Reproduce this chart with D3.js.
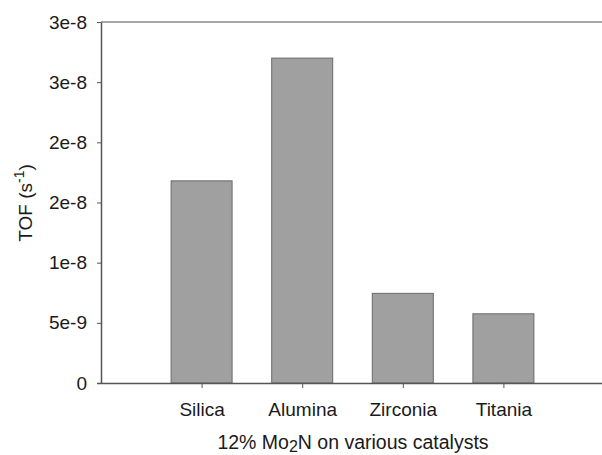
<!DOCTYPE html>
<html>
<head>
<meta charset="utf-8">
<script src="https://cdn.jsdelivr.net/npm/d3@7"></script>
<style>
  html, body { margin: 0; padding: 0; background: #fff; }
  svg { display: block; }
  text { font-family: "Liberation Sans", Arial, sans-serif; fill: #1a1a1a; }
</style>
</head>
<body>
<svg id="chart" width="602" height="455"></svg>
<script>
// TOF per support
const categories = ["Silica", "Alumina", "Zirconia", "Titania"];
const tofValues = [1.68e-8, 2.70e-8, 7.45e-9, 5.75e-9];
const yTickValues = [0, 5e-9, 1e-8, 1.5e-8, 2e-8, 2.5e-8, 3e-8];
const yTickLabels = ["0", "5e-9", "1e-8", "2e-8", "2e-8", "3e-8", "3e-8"];

const svg = d3.select("#chart");
const plotLeft = 101, plotRight = 602, plotTop = 22, plotBottom = 383;
const fontSize = "19px";

// categories sit at positions 1..4 on a 0..5 axis
const x = d3.scaleLinear().domain([0, 5]).range([plotLeft, plotLeft + 5 * 100.6]);
const y = d3.scaleLinear().domain([0, 3e-8]).range([plotBottom, plotTop]);
const barWidth = 61;

// top frame line
svg.append("line")
  .attr("x1", plotLeft).attr("x2", plotRight)
  .attr("y1", plotTop).attr("y2", plotTop)
  .attr("stroke", "#8a8a8a").attr("stroke-width", 1.5);

// bars
svg.append("g").selectAll("rect")
  .data(categories.map((c, i) => ({ c, v: tofValues[i], i })))
  .join("rect")
  .attr("x", d => x(d.i + 1) - barWidth / 2)
  .attr("width", barWidth)
  .attr("y", d => y(d.v))
  .attr("height", d => y(0) - y(d.v))
  .attr("fill", "#a0a0a0")
  .attr("stroke", "#6a6a6a")
  .attr("stroke-width", 1);

// y axis
const yAxis = d3.axisLeft(y)
  .tickValues(yTickValues)
  .tickFormat((d, i) => yTickLabels[i])
  .tickSize(4)
  .tickPadding(10)
  .tickSizeOuter(0);
const gy = svg.append("g").attr("transform", `translate(${plotLeft},0)`).call(yAxis);
gy.select(".domain").attr("stroke", "#555").attr("stroke-width", 1.5);
gy.selectAll(".tick line").attr("stroke", "#555");
gy.selectAll(".tick text").style("font-size", fontSize).attr("fill", "#1a1a1a");

// x axis
const xAxis = d3.axisBottom(x)
  .tickValues([1, 2, 3, 4])
  .tickFormat((d) => categories[d - 1])
  .tickSize(5)
  .tickPadding(15)
  .tickSizeOuter(0);
const gx = svg.append("g").attr("transform", `translate(0,${plotBottom})`).call(xAxis);
gx.select(".domain").attr("d", `M${plotLeft - 4},0.5H${plotRight}`)
  .attr("stroke", "#555").attr("stroke-width", 1.5);
gx.selectAll(".tick line").attr("stroke", "#555");
gx.selectAll(".tick text").style("font-size", fontSize).attr("fill", "#1a1a1a");

// axis titles
const xt = svg.append("text")
  .attr("x", 353).attr("y", 449)
  .attr("text-anchor", "middle")
  .style("font-size", "19.5px");
xt.append("tspan").text("12% Mo");
xt.append("tspan").attr("dy", 3).style("font-size", "16px").text("2");
xt.append("tspan").attr("dy", -3).text("N on various catalysts");

const yt = svg.append("text")
  .attr("transform", `translate(32,203) rotate(-90)`)
  .attr("text-anchor", "middle")
  .style("font-size", fontSize);
yt.append("tspan").text("TOF (s");
yt.append("tspan").attr("dy", -8).style("font-size", "14px").text("-1");
yt.append("tspan").attr("dy", 8).text(")");
</script>
</body>
</html>
